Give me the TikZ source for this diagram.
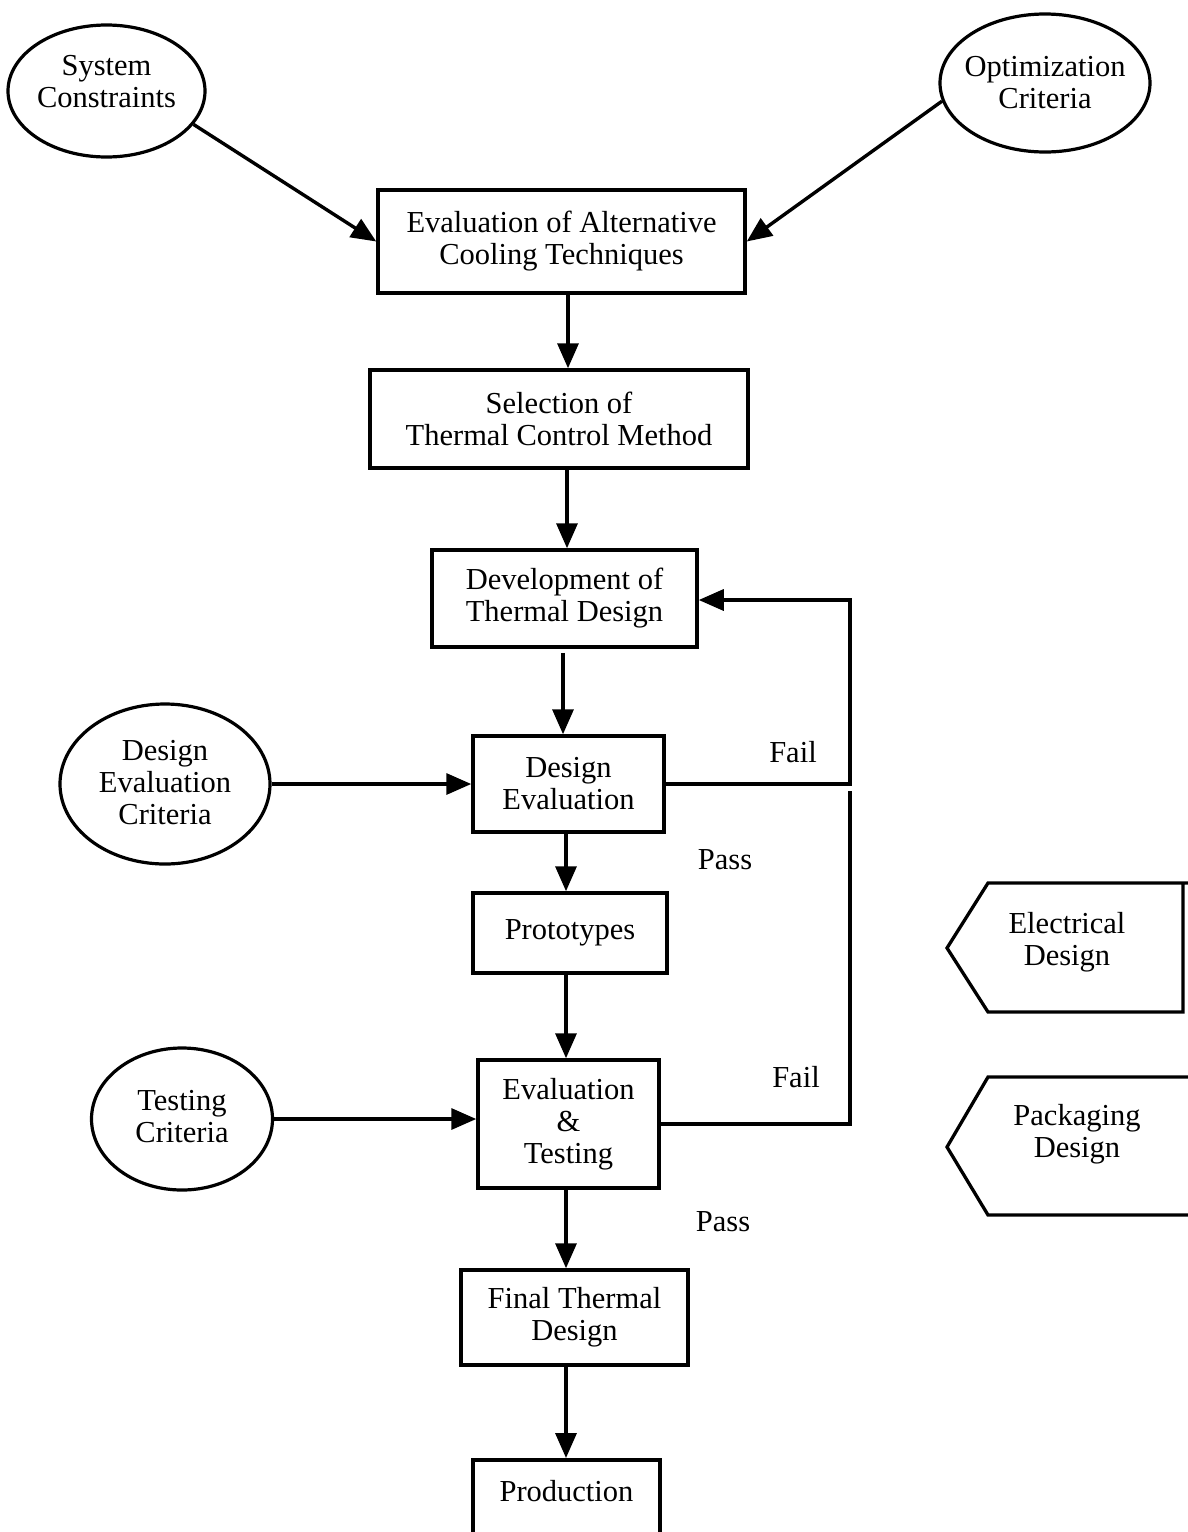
\documentclass[tikz,border=0pt]{standalone}
\usepackage{fontspec}
\setmainfont{Liberation Serif}
\usetikzlibrary{shapes.geometric,arrows.meta}
\begin{document}
\begin{tikzpicture}[x=1pt,y=-1pt,
  every node/.style={font=\fontsize{30.5}{32}\selectfont},
  every label/.style={align=center,inner sep=0pt},
  box/.style={draw, line width=3.5pt, rectangle, inner sep=0pt, align=center},
  oval/.style={draw, line width=3.2pt, ellipse, inner sep=0pt},
  arr/.style={line width=3.4pt, -{Triangle[length=25pt,width=21pt]}},
  ln/.style={line width=3.4pt},
  tag/.style={line width=3.3pt, line join=miter},
  lbl/.style={inner sep=0pt}]
\useasboundingbox (0,0) rectangle (1187,1532);

% ellipses
\node[oval, minimum width=197pt, minimum height=132pt,
  label={[yshift=9pt]center:System\\Constraints}] (sc) at (106.5,91) {};
\node[oval, minimum width=210pt, minimum height=138pt,
  label={[yshift=0pt]center:Optimization\\Criteria}] (oc) at (1045,83) {};
\node[oval, minimum width=210pt, minimum height=160pt,
  label={[yshift=1pt]center:Design\\Evaluation\\Criteria}] (dec) at (165,784) {};
\node[oval, minimum width=181pt, minimum height=142pt,
  label={[yshift=2pt]center:Testing\\Criteria}] (tc) at (182,1119) {};

% boxes
\node[box, minimum width=367pt, minimum height=103pt] (eval) at (561.5,241.5)
  {Evaluation of Alternative\\Cooling Techniques};
\node[box, minimum width=378pt, minimum height=98pt] (sel) at (559,419)
  {Selection of\\Thermal Control Method};
\node[box, minimum width=265pt, minimum height=97pt] (dev) at (564.5,598.5)
  {Development of\\Thermal Design};
\node[box, minimum width=191pt, minimum height=96pt] (deval) at (568.5,784)
  {Design\\Evaluation};
\node[box, minimum width=194pt, minimum height=80pt] (proto) at (570,933)
  {Prototypes};
\node[box, minimum width=181pt, minimum height=128pt] (evt) at (568.5,1124)
  {Evaluation\\\&\\Testing};
\node[box, minimum width=227pt, minimum height=95pt] (final) at (574.5,1317.5)
  {Final Thermal\\Design};
\node[draw, line width=3.5pt, inner sep=0pt, minimum width=187pt,
  text height=42pt, text depth=90pt, anchor=north] (prod) at (566.5,1458)
  {Production};

% side tags
\node[lbl, align=center] (elec) at (1067,942) {Electrical\\Design};
\node[lbl, align=center] (pack) at (1077,1134) {Packaging\\Design};
\draw[tag] (1190,883) -- (988,883) -- (947,948) -- (988,1012) -- (1183,1012) -- (1183,883);
\draw[tag] (1190,1077) -- (988,1077) -- (947,1147) -- (988,1215) -- (1190,1215);

% labels
\node[lbl] (fail1) at (793,752) {Fail};
\node[lbl] (pass1) at (725,860) {Pass};
\node[lbl] (fail2) at (796,1077) {Fail};
\node[lbl] (pass2) at (723,1222) {Pass};

% connectors
\draw[arr] (sc.-21) -- (eval.west);
\draw[arr] (oc.190) -- (eval.east);
\draw[arr] (eval.south -| 568,0) -- (sel.north -| 568,0);
\draw[arr] (sel.south -| 567,0) -- (dev.north -| 567,0);
\draw[arr, shorten <=4pt] (dev.south -| 563,0) -- (deval.north -| 563,0);
\draw[arr] (deval.south -| 566,0) -- (proto.north -| 566,0);
\draw[arr] (proto.south -| 566,0) -- (evt.north -| 566,0);
\draw[arr] (evt.south -| 566,0) -- (final.north -| 566,0);
\draw[arr] (final.south -| 566,0) -- (prod.north -| 566,0);
\draw[arr] (dec.east) -- (dec.east -| deval.west);
\draw[arr] (tc.east) -- (tc.east -| evt.west);

\coordinate (f1) at (850,784);
\coordinate (f2) at (850,600);
\draw[arr, line join=miter] (deval.east) -- (f1) -- (f2) -- (f2 -| dev.east);
\coordinate (g1) at (850,791);
\draw[ln, line join=miter] (g1) -- (g1 |- evt.east) -- (evt.east);
\end{tikzpicture}
\end{document}
